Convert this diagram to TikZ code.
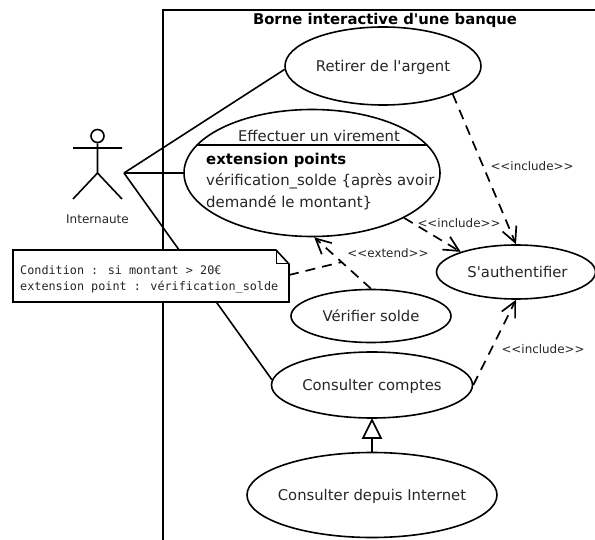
\documentclass[tikz,border=0pt]{standalone}
\usepackage{fontspec}
\newfontfamily\dv{DejaVu Sans}
\newfontfamily\dvm{DejaVu Sans Mono}
\usetikzlibrary{shapes.geometric,arrows.meta}
\newcommand{\lowtxt}[1]{\raisebox{0pt}[11pt][0pt]{#1}}
\tikzset{
 uc/.style={draw,ellipse,line width=1.6pt,inner sep=0pt,fill=white,text=black!85,font=\dv\fontsize{14.8}{17}\selectfont},
 lnk/.style={line width=1.6pt},
 dep/.style={line width=1.7pt,dash pattern=on 10pt off 7pt,-{Straight Barb[length=15pt,width=15pt,line width=1.7pt]}},
 stereo/.style={font=\dv\fontsize{11.9}{14}\selectfont,text=black!85},
 txt/.style={anchor=west,inner sep=0pt,text=black!85,font=\dv\fontsize{14.9}{17}\selectfont},
 notetxt/.style={anchor=west,inner sep=0pt,text=black!85,font=\dvm\fontsize{11.8}{14}\selectfont},
}
\begin{document}
\begin{tikzpicture}[x=1pt,y=-1pt]
\useasboundingbox (0,0) rectangle (595,540);
% frame
\coordinate (fa) at (163,540); \coordinate (fb) at (163,10); \coordinate (fc) at (595,10);
\draw[lnk] (fa) -- (fb) -- (fc);
\node[inner sep=0pt,font=\dv\bfseries\fontsize{14.8}{17}\selectfont] (title) at (385,20) {Borne interactive d'une banque};
% actor
\coordinate (act) at (124,173);
\node[draw,circle,line width=1.6pt,minimum size=13pt,inner sep=0pt] (head) at (97.5,136) {};
\coordinate (hip) at (97.5,173);
\coordinate (al) at (73,148); \coordinate (ar) at (122,148);
\coordinate (ll) at (73,199); \coordinate (lr) at (122,199);
\draw[lnk] (head) -- (hip) (al) -- (ar) (ll) -- (hip) -- (lr);
\node[inner sep=0pt,font=\dv\fontsize{12}{14}\selectfont,text=black!85] (actname) at (97.5,219) {Internaute};
% use cases
\node[uc,minimum width=196pt,minimum height=78pt] (ret) at (383,66) {\lowtxt{Retirer de l'argent}};
\node[uc,minimum width=256pt,minimum height=127pt] (vir) at (312,173) {};
\node[uc,minimum width=159pt,minimum height=54pt] (auth) at (516,272) {\lowtxt{\hspace{3pt}S'authentifier}};
\node[uc,minimum width=160pt,minimum height=53pt] (ver) at (371,316) {\lowtxt{Vérifier solde}};
\node[uc,minimum width=201pt,minimum height=66pt] (com) at (372,385) {\lowtxt{Consulter comptes}};
\node[uc,inner xsep=-10pt,minimum width=250pt,minimum height=85pt] (int) at (372,495) {\lowtxt{Consulter depuis Internet}};
% compartment
\coordinate (sl) at (197,145); \coordinate (sr) at (427,145);
\draw[lnk] (sl) -- (sr);
\node[inner sep=0pt,text=black!85,font=\dv\fontsize{14.8}{17}\selectfont] (virt) at (319,135.5) {Effectuer un virement};
\node[txt,font=\dv\bfseries\fontsize{14.9}{17}\selectfont,text=black] (ep) at (206,160) {extension points};
\node[txt] (ep1) at (206,181.5) {vérification\_solde \{après avoir};
\node[txt] (ep2) at (206,203) {demandé le montant\}};
% associations
\draw[lnk] (act) -- (ret.182.5);
\draw[lnk] (act) -- (vir);
\draw[lnk] (act) -- (com.177);
% dependencies
\draw[dep] (ret.-22) -- (auth.90);
\draw[dep] (vir.-26.5) -- (auth.160);
\draw[dep] (ver.90) -- (vir.-88);
\draw[dep] (com.0) -- (auth.-90);
\coordinate (nj) at (342,262);
% note
\coordinate (noteanchor) at (289,275);
\draw[line width=1.7pt,dash pattern=on 10pt off 7pt] (noteanchor) -- (nj);
\draw[line width=1.6pt,fill=white] (13,250) -- (276,250) -- (289,264) -- (289,302) -- (13,302) -- cycle;
\draw[line width=1pt] (276,250) -- (276,264) -- (289,264);
\node[notetxt] (n1) at (20,270.5) {Condition : si montant > 20€};
\node[notetxt] (n2) at (20,287) {extension point : vérification\_solde};
% labels
\node[stereo] (l1) at (532,166) {<{}<include>{}>};
\node[stereo] (l2) at (459,223) {<{}<include>{}>};
\node[stereo] (l3) at (388,253) {<{}<extend>{}>};
\node[stereo] (l4) at (543,349) {<{}<include>{}>};
% generalization
\coordinate (gb) at (372,438);
\draw[line width=1.6pt] (int.north) -- (gb);
\draw[line width=1.6pt,fill=white] (372,420) -- (381,438) -- (363,438) -- cycle;
\end{tikzpicture}
\end{document}
